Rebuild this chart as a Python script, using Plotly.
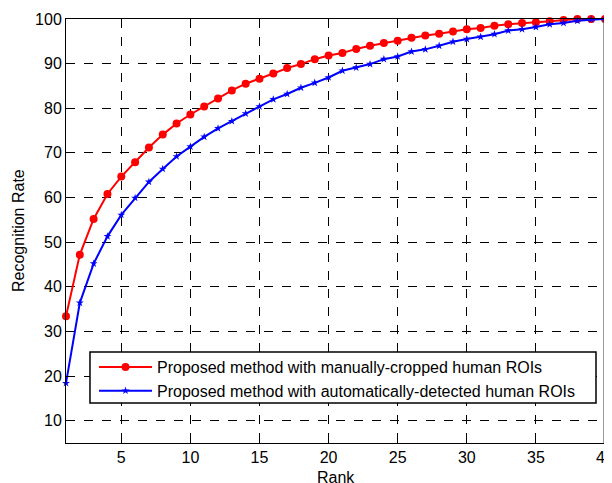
import plotly.graph_objects as go

rank = list(range(1, 41))
manual = [33.4, 47.2, 55.2, 60.8, 64.7, 67.9, 71.2, 74.1, 76.6, 78.6,
          80.4, 82.2, 84.0, 85.5, 86.6, 87.8, 89.0, 89.9, 91.0, 91.8,
          92.4, 93.3, 94.0, 94.6, 95.1, 95.8, 96.3, 96.7, 97.2, 97.7,
          98.0, 98.5, 98.8, 99.1, 99.25, 99.5, 99.8, 100.0, 100.0, 100.0]
auto = [18.4, 36.4, 45.2, 51.3, 56.1, 59.9, 63.5, 66.4, 69.2, 71.4,
        73.6, 75.5, 77.1, 78.8, 80.4, 82.0, 83.2, 84.6, 85.7, 86.9,
        88.4, 89.1, 89.9, 91.0, 91.6, 92.7, 93.2, 94.0, 94.9, 95.5,
        96.0, 96.6, 97.4, 97.7, 98.2, 98.8, 99.1, 99.6, 99.85, 100.0]
names = ["Proposed method with manually-cropped human ROIs",
         "Proposed method with automatically-detected human ROIs"]
xticks = [5, 10, 15, 20, 25, 30, 35, 40]
yticks = [10, 20, 30, 40, 50, 60, 70, 80, 90, 100]

FONT = "Arial, Liberation Sans, sans-serif"

fig = go.Figure()
fig.add_trace(go.Scatter(x=rank, y=manual, mode="lines+markers", name=names[0],
                         line=dict(color="#ff0000", width=2),
                         marker=dict(symbol="circle", size=8, color="#ff0000"),
                         cliponaxis=False))
fig.add_trace(go.Scatter(x=rank, y=auto, mode="lines+markers", name=names[1],
                         line=dict(color="#0000ff", width=2),
                         marker=dict(symbol="star", size=6, color="#0000ff"),
                         cliponaxis=False))

axis_common = dict(showline=True, linecolor="black", linewidth=1, mirror=True,
                   showgrid=True, gridcolor="black", griddash="dash", gridwidth=1,
                   ticks="inside", ticklen=4, tickcolor="black", zeroline=False,
                   automargin=False, ticklabeloverflow="allow",
                   tickfont=dict(family=FONT, size=16, color="black"))

fig.update_xaxes(range=[1, 40], tickvals=xticks, **axis_common)
fig.update_yaxes(range=[5, 100], tickvals=yticks, **axis_common)

fig.add_annotation(text="Rank", xref="paper", yref="paper", x=0.5, y=0,
                   xanchor="center", yanchor="middle", yshift=-34, showarrow=False,
                   font=dict(family=FONT, size=16, color="black"))
fig.add_annotation(text="Recognition Rate", xref="paper", yref="paper", x=0, y=0.5,
                   xanchor="center", yanchor="middle", xshift=-48, textangle=-90,
                   showarrow=False, font=dict(family=FONT, size=16, color="black"))

# legend frame (white box hiding the grid behind the legend)
fig.add_shape(type="rect", xref="x domain", yref="y domain", x0=0.0445, x1=0.9833,
              y0=0.0943, y1=0.2146, layer="above",
              fillcolor="white", line=dict(color="black", width=1.5))
# heavy right frame edge
fig.add_shape(type="line", xref="x domain", yref="y domain", x0=1, x1=1, y0=0, y1=1,
              layer="above", line=dict(color="#3a3a3a", width=3))

# page body has an 8px default margin, so the figure is shrunk and offset accordingly
fig.update_layout(
    width=604, height=475,
    margin=dict(l=58, r=7, t=11, b=40, autoexpand=False),
    paper_bgcolor="white", plot_bgcolor="white",
    font=dict(family=FONT, size=16, color="black"),
    legend=dict(x=0.052, y=0.2193, xanchor="left", yanchor="top",
                bgcolor="rgba(0,0,0,0)", borderwidth=0,
                font=dict(family=FONT, size=16, color="black"),
                itemwidth=53, tracegroupgap=0),
    showlegend=True,
)

fig.write_html("out.html")
